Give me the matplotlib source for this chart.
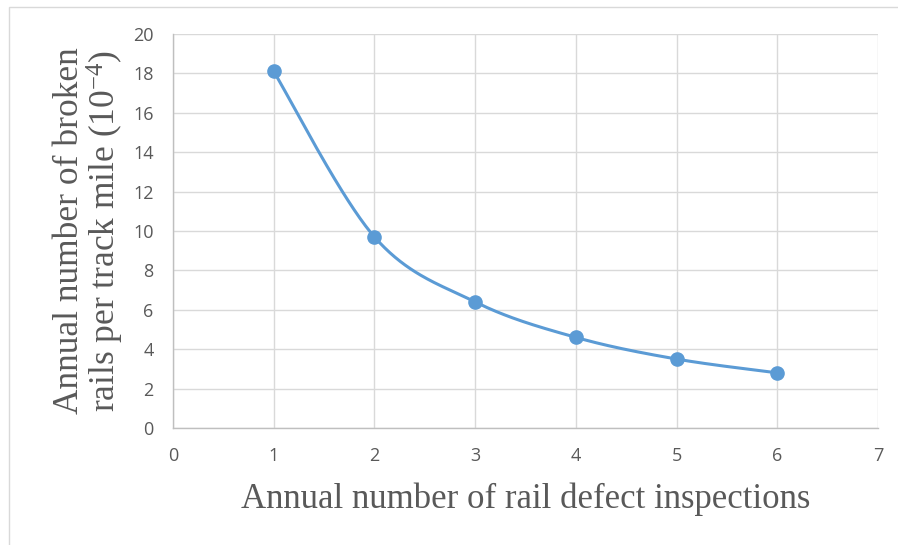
import numpy as np
import matplotlib
matplotlib.use("Agg")
import matplotlib.pyplot as plt
from matplotlib.patches import Rectangle

plt.rcParams['mathtext.fontset'] = 'custom'
plt.rcParams['mathtext.rm'] = 'Liberation Serif'
plt.rcParams['mathtext.it'] = 'Liberation Serif:italic'

inspections = [1, 2, 3, 4, 5, 6]
broken_rails = [18.1, 9.7, 6.4, 4.6, 3.5, 2.8]
x_ticks = [0, 1, 2, 3, 4, 5, 6, 7]
y_ticks = [0, 2, 4, 6, 8, 10, 12, 14, 16, 18, 20]

LINE = '#5B9BD5'
GRID = '#D9D9D9'
TEXT = '#595959'


def smooth_curve(xs, ys, n=60):
    """Cubic Bezier smoothing through the points (Catmull-Rom tangents)."""
    xs = np.asarray(xs, float)
    ys = np.asarray(ys, float)
    px = np.concatenate([[xs[0]], xs, [xs[-1]]])
    py = np.concatenate([[ys[0]], ys, [ys[-1]]])
    out_x, out_y = [], []
    t = np.linspace(0, 1, n)
    for i in range(1, len(px) - 2):
        p0 = np.array([px[i], py[i]])
        p3 = np.array([px[i + 1], py[i + 1]])
        c1 = p0 + (np.array([px[i + 1], py[i + 1]]) - np.array([px[i - 1], py[i - 1]])) / 6
        c2 = p3 - (np.array([px[i + 2], py[i + 2]]) - np.array([px[i], py[i]])) / 6
        b = ((1 - t) ** 3)[:, None] * p0 + (3 * (1 - t) ** 2 * t)[:, None] * c1 \
            + (3 * (1 - t) * t ** 2)[:, None] * c2 + (t ** 3)[:, None] * p3
        out_x.extend(b[:, 0])
        out_y.extend(b[:, 1])
    return out_x, out_y


fig = plt.figure(figsize=(8.98, 5.45), dpi=100)
fig.patches.append(Rectangle((9 / 898, -0.1), 1.2, (545 - 7) / 545 + 0.1,
                             transform=fig.transFigure, fill=False,
                             edgecolor='#D9D9D9', linewidth=1.0))

ax = fig.add_axes([173 / 898, 1 - 428 / 545, (878 - 173) / 898, (428 - 34) / 545])
ax.set_xlim(0, 7)
ax.set_ylim(0, 20)
ax.set_xticks(x_ticks)
ax.set_yticks(y_ticks)
ax.grid(True, color=GRID, linewidth=1.0)
ax.set_axisbelow(True)
for side in ('top', 'right'):
    ax.spines[side].set_visible(False)
for side in ('left', 'bottom'):
    ax.spines[side].set_color('#BFBFBF')
    ax.spines[side].set_linewidth(1.0)
ax.tick_params(length=0, labelsize=13, labelcolor=TEXT, pad=14)
for lab in ax.get_xticklabels() + ax.get_yticklabels():
    lab.set_fontfamily('Open Sans')

sx, sy = smooth_curve(inspections, broken_rails)
ax.plot(sx, sy, color=LINE, linewidth=2.2, solid_capstyle='round', zorder=3)
ax.plot(inspections, broken_rails, 'o', color=LINE, markersize=9.5, zorder=4)

ax.set_xlabel('Annual number of rail defect inspections', fontsize=25,
              fontfamily='Liberation Serif', color=TEXT, labelpad=12)
ax.set_ylabel('Annual number of broken\nrails per track mile (10$^{-4}$)', fontsize=25.5,
              fontfamily='Liberation Serif', color=TEXT, labelpad=5,
              linespacing=0.95)

fig.savefig('out.png', dpi=100)
